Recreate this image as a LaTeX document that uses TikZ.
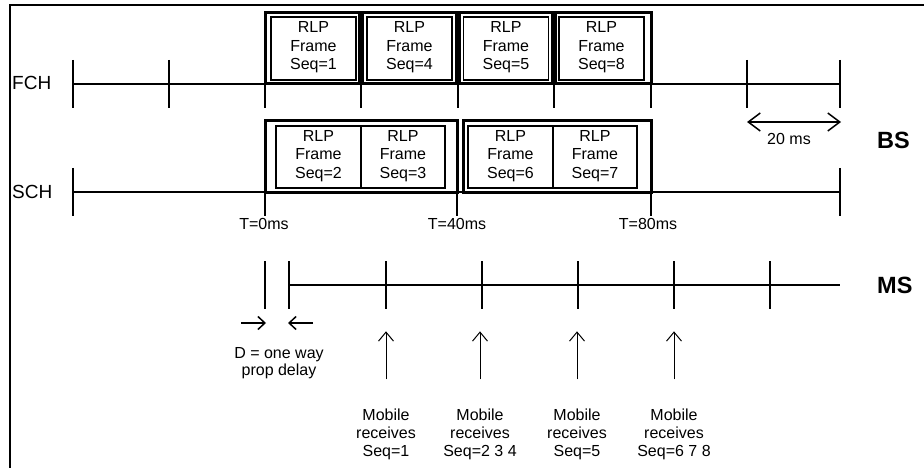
\documentclass[tikz,border=0pt]{standalone}
\usepackage{fontspec}
\setmainfont{Liberation Sans}
\usetikzlibrary{arrows.meta}

\tikzset{
  axisline/.style={line width=1.8pt},
  slot/.style={line width=3pt},
  rlpframe/.style={draw, line width=1.8pt, minimum width=85pt, minimum height=63pt,
    inner sep=0pt, text depth=6pt, align=center, font=\fontsize{16}{18.5}\selectfont},
  txt/.style={inner sep=0pt, align=center, font=\fontsize{16}{18}\selectfont},
  chname/.style={inner sep=0pt, anchor=west, font=\fontsize{19}{19}\selectfont},
  side/.style={inner sep=0pt, anchor=west, font=\fontsize{23.5}{23.5}\selectfont\bfseries},
  barb/.style={-{Straight Barb[length=9pt,width=15pt]}},
}

\begin{document}
\begin{tikzpicture}[x=1pt,y=-1pt]
\useasboundingbox (0,0) rectangle (924,468);
% border
\draw[line width=2pt] (924,5) -- (10,5) -- (10,468);

% channel names
\node[chname] (fch) at (12,83) {FCH};
\node[chname] (sch) at (12,192) {SCH};
\node[side] (bs) at (877,140) {BS};
\node[side] (ms) at (877,285) {MS};

% FCH time line
\coordinate (fcha) at (73,84);
\coordinate (fchb) at (840,84);
\draw[axisline] (fcha) -- (fchb);
\foreach \x in {73,169,747,840}
  \draw[axisline] (\x,60) -- (\x,108);
\foreach \x in {265,361,458,554,651}
  \draw[axisline] (\x,84) -- (\x,108);
\foreach \a/\b in {265/359.5,362.5/456.5,459.5/552.5,555.5/651}
  \draw[slot] (\a,13) rectangle (\b,84);
\node[rlpframe] (f1) at (313.5,48.5) {RLP\\Frame\\Seq=1};
\node[rlpframe] (f4) at (409.5,48.5) {RLP\\Frame\\Seq=4};
\node[rlpframe] (f5) at (506,48.5) {RLP\\Frame\\Seq=5};
\node[rlpframe] (f8) at (601.5,48.5) {RLP\\Frame\\Seq=8};

% 20 ms
\coordinate (twa) at (747,122);
\coordinate (twb) at (841,122);
\draw[{Straight Barb[length=12pt,width=18pt]}-{Straight Barb[length=12pt,width=18pt]},
  line width=1.5pt] (twa) -- (twb);
\node[txt] (twenty) at (789,139) {20 ms};

% SCH time line
\coordinate (scha) at (73,192);
\coordinate (schb) at (840,192);
\draw[axisline] (scha) -- (schb);
\foreach \x in {73,840}
  \draw[axisline] (\x,168) -- (\x,216);
\foreach \x in {265,457,651}
  \draw[axisline] (\x,192) -- (\x,216);
\foreach \a/\b in {265/457,463/651}
  \draw[slot] (\a,121) rectangle (\b,192);
\node[rlpframe, minimum width=84.5pt, minimum height=62pt] (s2) at (318.5,157) {RLP\\Frame\\Seq=2};
\node[rlpframe, minimum width=84.5pt, minimum height=62pt] (s3) at (403,157) {RLP\\Frame\\Seq=3};
\node[rlpframe, minimum width=84.5pt, minimum height=62pt] (s6) at (510.5,157) {RLP\\Frame\\Seq=6};
\node[rlpframe, minimum width=84.5pt, minimum height=62pt] (s7) at (595,157) {RLP\\Frame\\Seq=7};

\node[txt] (t0) at (264,224) {T=0ms};
\node[txt] (t40) at (457,224) {T=40ms};
\node[txt] (t80) at (648,224) {T=80ms};

% MS time line
\coordinate (msa) at (289,285);
\coordinate (msb) at (840,285);
\draw[axisline] (msa) -- (msb);
\foreach \x in {265,289,386,482,578,674,770}
  \draw[axisline] (\x,261) -- (\x,309);

% propagation delay
\coordinate (da) at (241,323);
\coordinate (db) at (266,323);
\coordinate (dc) at (313,323);
\coordinate (dd) at (288,323);
\draw[-{Straight Barb[length=7pt,width=13pt]}, line width=1.5pt] (da) -- (db);
\draw[-{Straight Barb[length=7pt,width=13pt]}, line width=1.5pt] (dc) -- (dd);
\node[txt, font=\fontsize{16}{17}\selectfont] (delay) at (279,363) {D = one way\\prop delay};

% mobile receives
\foreach \x/\s/\n in {386/1/r1,480/2 3 4/r2,577/5/r3,674/6 7 8/r4}{
  \node[txt] (\n) at (\x,434) {Mobile\\receives\\Seq=\s};
  \draw[barb, line width=1pt] ([yshift=29pt]\n.north) -- ([yshift=77pt]\n.north);
}
\end{tikzpicture}
\end{document}
